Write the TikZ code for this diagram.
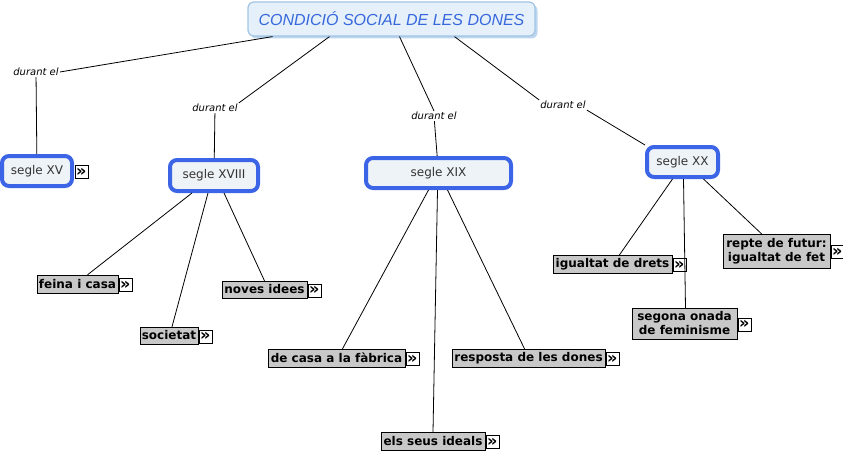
\documentclass[tikz,border=0pt]{standalone}
\usepackage{fontspec}
\setmainfont{DejaVu Sans}
\newfontfamily\titlefont{Liberation Sans}
\usetikzlibrary{positioning,shadows}
\definecolor{mapblue}{RGB}{60,100,230}
\definecolor{centfill}{RGB}{238,243,247}
\definecolor{topfill}{RGB}{230,240,250}
\definecolor{topline}{RGB}{160,196,230}
\definecolor{topshadow}{RGB}{190,214,238}
\definecolor{toptext}{RGB}{55,105,220}
\definecolor{topicgray}{RGB}{200,200,200}

\begin{document}
\begin{tikzpicture}[
  x=1pt, y=-1pt, node distance=0pt,
  top/.style={draw=topline, line width=1.2pt, rounded corners=6pt, fill=topfill, minimum width=287pt, minimum height=34pt, font=\titlefont\itshape\fontsize{16}{18}\selectfont, text=toptext, drop shadow={shadow xshift=2.5pt, shadow yshift=-2.5pt, fill=topshadow, opacity=1}},
  period/.style={font=\itshape\fontsize{10}{12}\selectfont, inner sep=1pt},
  century/.style={draw=mapblue, line width=4pt, rounded corners=7pt, fill=centfill, font=\fontsize{12}{14}\selectfont, text=black!80, minimum height=30pt},
  topic/.style={draw, fill=topicgray, font=\bfseries\fontsize{12}{14}\selectfont, inner sep=1.5pt, minimum height=18pt, align=center},
  more/.style={draw, fill=white, inner sep=0pt, minimum size=13pt, font=\bfseries\fontsize{16}{16}\selectfont},
  link/.style={line width=0.8pt}
]
  \useasboundingbox (0,0) rectangle (843,452);

  \node[top] (cond) at (391.5,19) {CONDICIÓ SOCIAL DE LES DONES};

  \node[period] (durXV) at (36,72) {durant el};
  \node[period] (durXVIII) at (215,108) {durant el};
  \node[period] (durXIX) at (434,116) {durant el};
  \node[period] (durXX) at (563,105) {durant el};

  \node[century, minimum width=70pt] (xv) at (37,171) {segle XV};
  \node[century, minimum width=88pt, minimum height=31pt] (xviii) at (214,175.5) {segle XVIII};
  \node[century, minimum width=145pt] (xix) at (438.5,173) {segle XIX};
  \node[century, minimum width=71pt] (xx) at (682.5,162) {segle XX};

  \node[topic, minimum width=81pt] (feina) at (77.5,284) {feina i casa};
  \node[topic, minimum width=85pt, minimum height=17pt] (noves) at (264.5,289.5) {noves idees};
  \node[topic, minimum width=58pt, minimum height=17pt] (societat) at (169,335.5) {societat};
  \node[topic, minimum width=137pt] (fabrica) at (336.5,358) {de casa a la fàbrica};
  \node[topic, minimum width=153pt] (resposta) at (528.5,358) {resposta de les dones};
  \node[topic, minimum width=104pt] (ideals) at (433,441) {els seus ideals};
  \node[topic, minimum width=119pt] (drets) at (612.5,264) {igualtat de drets};
  \node[topic, minimum width=107pt, minimum height=34pt] (repte) at (776.5,251) {repte de futur:\\igualtat de fet};
  \node[topic, minimum width=105pt, minimum height=31pt] (onada) at (684.5,323.5) {segona onada\\de feminisme};

  \foreach \n in {xv,feina,noves,societat,fabrica,resposta,ideals,drets,repte,onada}
    \node[more, right=0.5pt of \n.east, yshift=-1pt] (\n-more) {»};

  \draw[link] ([xshift=-119pt]cond.south) -- (durXV.east);
  \draw[link] ([xshift=-62pt]cond.south) -- (durXVIII.north east);
  \draw[link] ([xshift=8pt]cond.south) -- (durXIX.north);
  \draw[link] ([xshift=63pt]cond.south) -- (durXX.north west);
  \draw[link] (durXV) -- (xv);
  \draw[link] (durXVIII) -- (xviii);
  \draw[link] (durXIX) -- (xix);
  \draw[link] (durXX.south east) -- (xx.north west);

  \draw[link] ([xshift=-22pt]xviii.south) -- ([xshift=10pt]feina.north);
  \draw[link] ([xshift=-6pt]xviii.south) -- ([xshift=3pt]societat.north);
  \draw[link] ([xshift=10pt]xviii.south) -- (noves.north);
  \draw[link] ([xshift=-10pt]xix.south) -- ([xshift=6pt]fabrica.north);
  \draw[link] ([xshift=-1pt]xix.south) -- (ideals.north);
  \draw[link] ([xshift=9pt]xix.south) -- ([xshift=-4pt]resposta.north);
  \draw[link] ([xshift=-10pt]xx.south) -- ([xshift=7pt]drets.north);
  \draw[link] ([xshift=1pt]xx.south) -- ([xshift=1pt]onada.north);
  \draw[link] ([xshift=21pt]xx.south) -- ([xshift=-15pt]repte.north);
\end{tikzpicture}
\end{document}
